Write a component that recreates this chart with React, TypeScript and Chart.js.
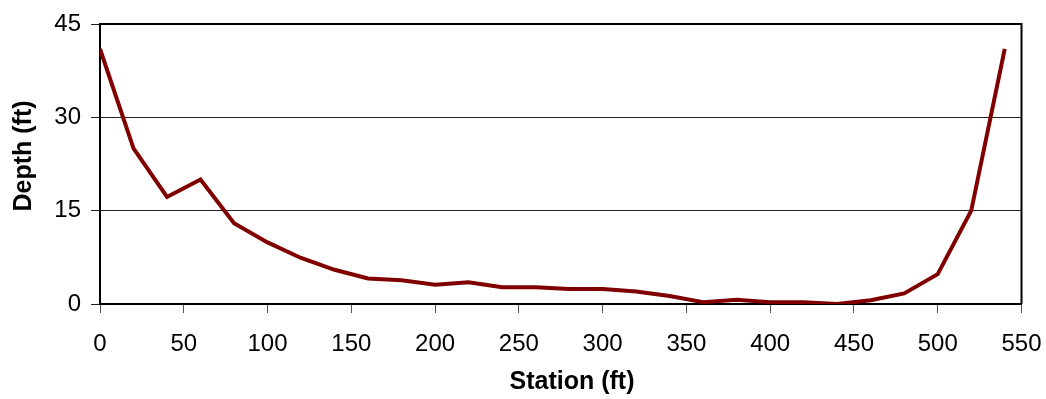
import React, { useEffect, useRef } from "react";
import { Chart, registerables } from "chart.js";

Chart.register(...registerables);

const stations = [0, 20, 40, 60, 80, 100, 120, 140, 160, 180, 200, 220, 240, 260, 280, 300, 320, 340, 360, 380, 400, 420, 440, 460, 480, 500, 520, 540];
const depths = [41, 25, 17.2, 20, 13, 9.9, 7.4, 5.5, 4.1, 3.8, 3.1, 3.5, 2.7, 2.7, 2.4, 2.4, 2.0, 1.3, 0.3, 0.7, 0.3, 0.3, 0, 0.6, 1.7, 4.8, 15, 41];
const xTitle = "Station (ft)";
const yTitle = "Depth (ft)";
const xRange = [0, 550, 50];
const yRange = [0, 45, 15];

const FONT = "'Liberation Sans', Arial, sans-serif";

const framePlugin = {
  id: "frame",
  afterDraw(chart: any) {
    const { ctx, chartArea } = chart;
    const { left, right, top, bottom } = chartArea;
    ctx.save();
    ctx.strokeStyle = "#000";
    ctx.lineWidth = 2;
    ctx.beginPath();
    ctx.moveTo(left, top);
    ctx.lineTo(right, top);
    ctx.lineTo(right, bottom);
    ctx.stroke();
    // axis titles
    ctx.fillStyle = "#000";
    ctx.font = `bold 25px ${FONT}`;
    ctx.textAlign = "center";
    ctx.textBaseline = "middle";
    ctx.fillText(xTitle, 572, 382);
    ctx.translate(24, 156);
    ctx.rotate(-Math.PI / 2);
    ctx.fillText(yTitle, 0, 0);
    ctx.restore();
  },
};

export default function App() {
  const ref = useRef<HTMLCanvasElement | null>(null);
  useEffect(() => {
    if (!ref.current) return;
    const chart = new Chart(ref.current, {
      type: "line",
      data: {
        datasets: [
          {
            data: stations.map((s, i) => ({ x: s, y: depths[i] })),
            borderColor: "#800000",
            borderWidth: 4,
            pointRadius: 0,
            tension: 0,
            fill: false,
          },
        ],
      },
      options: {
        responsive: false,
        animation: false,
        layout: { padding: { top: 24, right: 24.5, left: 0, bottom: 0 } },
        plugins: { legend: { display: false }, tooltip: { enabled: false }, title: { display: false } },
        scales: {
          x: {
            type: "linear",
            min: xRange[0],
            max: xRange[1],
            ticks: { stepSize: xRange[2], color: "#000", font: { family: FONT, size: 24 }, padding: 17, maxRotation: 0 },
            grid: { drawOnChartArea: false, drawTicks: true, tickLength: 9, color: "#555", lineWidth: 1 },
            border: { display: true, color: "#000", width: 2 },
            afterFit(scale: any) {
              scale.height = 95;
              scale.paddingLeft = 0;
              scale.paddingRight = 0;
            },
          },
          y: {
            min: yRange[0],
            max: yRange[1],
            ticks: { stepSize: yRange[2], color: "#000", font: { family: FONT, size: 24 }, padding: 10 },
            grid: { drawOnChartArea: true, drawTicks: true, tickLength: 9, color: "#222", lineWidth: 1 },
            border: { display: true, color: "#000", width: 2 },
            afterFit(scale: any) {
              scale.width = 100;
              scale.paddingTop = 0;
              scale.paddingBottom = 0;
            },
          },
        },
      },
      plugins: [framePlugin],
    });
    return () => chart.destroy();
  }, []);
  return (
    <div style={{ position: "absolute", left: 0, top: 0, width: 1046, height: 399, background: "#fff" }}>
      <canvas ref={ref} width={1046} height={399} />
    </div>
  );
}
